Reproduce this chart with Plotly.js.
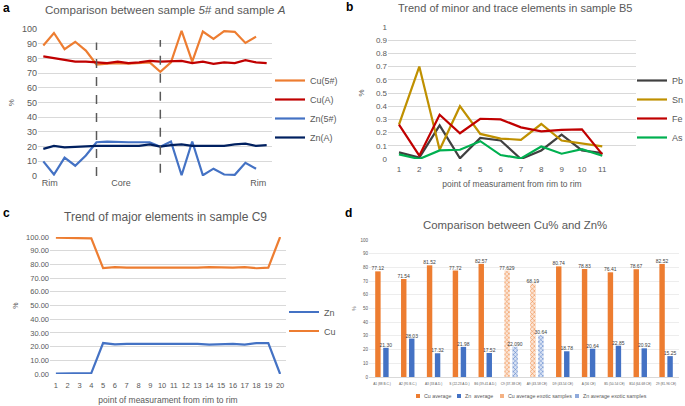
<!DOCTYPE html>
<html><head><meta charset="utf-8">
<script src="https://cdn.plot.ly/plotly-3.0.1.min.js"></script>
<style>html,body{margin:0;padding:0;background:#fff}#chart{width:685px;height:406px}</style>
</head><body><div id="chart"></div>
<script>
// ---- Panel a data ----
const aX5 = [1,2,3,4,5,6,7,8,9,10,11,12,13,14,15,16,17,18,19,20,21];
const aXA = [1,2,3,4,5,6,7,8,9,10,11,12,13,14,15,16,17,18,19,20,21,22];
const cu5 = [89,97.5,86.5,91.5,85.5,76,76.5,77,76.5,77,77.5,71,77.5,99,78,98.5,93.5,98.8,98.3,90.7,95];
const cuA = [81.5,80.5,79.5,78,78,77.5,77,78,77,77.5,78.5,78,78,78.5,77,78,76.5,77.5,77,79,77.5,77];
const zn5 = [10,1,12.5,7,14,23,23.5,23,23,23,23,20,23.5,0.5,23.5,0.5,5,1,0.8,9,5];
const znA = [18.5,20.5,19.5,20,20.5,20.5,20.5,20.5,20,20.5,21.5,20,21,21.5,20.5,20.5,21,20.5,21.5,22,20.5,21];
const aTickVals = [1.6,8.3,21.2];
const aTickText = ['Rim','Core','Rim'];
const aDividers = [6,12];

// ---- Panel b data ----
const bX = [1,2,3,4,5,6,7,8,9,10,11];
const pb = [0.05,0.01,0.255,0.005,0.16,0.14,0.0,0.065,0.185,0.065,0.045];
const sn = [0.26,0.70,0.07,0.40,0.19,0.155,0.145,0.265,0.14,0.12,0.095];
const fe = [0.26,0.025,0.335,0.195,0.305,0.30,0.24,0.21,0.22,0.225,0.035];
const as = [0.035,0.0,0.065,0.07,0.135,0.03,0.005,0.095,0.04,0.075,0.025];

// ---- Panel c data ----
const cX = [1,2,3,4,5,6,7,8,9,10,11,12,13,14,15,16,17,18,19,20];
const cZn = [0.3,0.3,0.4,0.7,22.6,21.6,22,22,22.5,22,22.5,22,22,21.5,22,22,21.5,22.6,22.6,0];
const cCu = [99.5,99.5,99,99,77.3,78,77.7,77.7,77.2,77.6,77.6,77.6,77.6,78,77.6,77.6,78,77.2,77.6,100];

// ---- Panel d data ----
const dCats = ['A1 (88 B.C.)','A2 (95 B.C.)','A3 (33 A.D.)','S (22-23 A.D.)','B6 (39-41 A.D.)','C9 (37-38 CE)','A9 (43-58 CE)','D9 (43-54 CE)','A (56 CE)','B5 (50-54 CE)','B14 (64-68 CE)','29 (81-96 CE)'];
const dCuLbl = ['77.12','71.54','81.52','77.72','82.57',null,null,'80.74','78.83','76.41','78.67','82.52'];
const dZnLbl = ['21.30','28.03','17.32','21.98','17.52',null,null,'18.78','20.64','22.85','20.92','15.25'];
const dCuExLbl = [null,null,null,null,null,'77.629','68.19',null,null,null,null,null];
const dZnExLbl = [null,null,null,null,null,'22.090','30.64',null,null,null,null,null];
const dSeriesNames = ['Cu average','Zn  average','Cu average exotic samples','Zn average exotic samples'];
const num = a => a.map(v => v === null ? null : parseFloat(v));

const gray = '#595959';
const grid = '#D9D9D9';
const FF = 'Liberation Sans, Arial, sans-serif';
const dColors = ['#ED7D31','#4472C4','#F4B183','#8FAADC'];

const barText = {textposition:'outside',cliponaxis:false,constraintext:'none',textfont:{size:5,color:'#404040',family:FF},xaxis:'x4',yaxis:'y4',showlegend:false};

const traces = [
  {x:aX5,y:cu5,name:'Cu(5#)',type:'scatter',mode:'lines',line:{color:'#ED7D31',width:2.2},xaxis:'x',yaxis:'y',legend:'legend'},
  {x:aXA,y:cuA,name:'Cu(A)',type:'scatter',mode:'lines',line:{color:'#C00000',width:2.2},xaxis:'x',yaxis:'y',legend:'legend'},
  {x:aX5,y:zn5,name:'Zn(5#)',type:'scatter',mode:'lines',line:{color:'#4472C4',width:2.2},xaxis:'x',yaxis:'y',legend:'legend'},
  {x:aXA,y:znA,name:'Zn(A)',type:'scatter',mode:'lines',line:{color:'#002060',width:2.2},xaxis:'x',yaxis:'y',legend:'legend'},

  {x:bX,y:pb,name:'Pb',type:'scatter',mode:'lines',line:{color:'#404040',width:2.2},xaxis:'x2',yaxis:'y2',legend:'legend2'},
  {x:bX,y:sn,name:'Sn',type:'scatter',mode:'lines',line:{color:'#BF9000',width:2.2},xaxis:'x2',yaxis:'y2',legend:'legend2'},
  {x:bX,y:fe,name:'Fe',type:'scatter',mode:'lines',line:{color:'#C00000',width:2.2},xaxis:'x2',yaxis:'y2',legend:'legend2'},
  {x:bX,y:as,name:'As',type:'scatter',mode:'lines',line:{color:'#00B050',width:2.2},xaxis:'x2',yaxis:'y2',legend:'legend2'},

  {x:cX,y:cZn,name:'Zn',type:'scatter',mode:'lines',line:{color:'#4472C4',width:2.2},xaxis:'x3',yaxis:'y3',legend:'legend3'},
  {x:cX,y:cCu,name:'Cu',type:'scatter',mode:'lines',line:{color:'#ED7D31',width:2.2},xaxis:'x3',yaxis:'y3',legend:'legend3'},

  Object.assign({x:dCats,y:num(dCuLbl),text:dCuLbl,name:dSeriesNames[0],type:'bar',offset:-0.26,width:0.21,marker:{color:dColors[0]}},barText),
  Object.assign({x:dCats,y:num(dZnLbl),text:dZnLbl,name:dSeriesNames[1],type:'bar',offset:0.05,width:0.21,marker:{color:dColors[1]}},barText),
  Object.assign({x:dCats,y:num(dCuExLbl),text:dCuExLbl,name:dSeriesNames[2],type:'bar',offset:-0.26,width:0.21,
   marker:{color:'#F8CBAD',pattern:{shape:'x',fgcolor:'#ED7D31',bgcolor:'#FBE5D6',size:3,solidity:0.3}}},barText),
  Object.assign({x:dCats,y:num(dZnExLbl),text:dZnExLbl,name:dSeriesNames[3],type:'bar',offset:0.05,width:0.21,
   marker:{color:'#B4C7E7',pattern:{shape:'x',fgcolor:'#4472C4',bgcolor:'#DAE3F3',size:3,solidity:0.3}}},barText)
];

const px = v => v/685, py = v => 1 - v/406;
const tf = s => ({family:FF,size:s,color:gray});

// panel d legend (small squares + text)
const dLegX = [416,457,500,575];
const dLegY = 396;
const legShapes = dLegX.map((x,i) => ({type:'rect',xref:'paper',yref:'paper',x0:px(x),x1:px(x+4),y0:py(dLegY+2),y1:py(dLegY-2),
  fillcolor:dColors[i],line:{width:0}}));
const legAnn = dLegX.map((x,i) => ({text:dSeriesNames[i],xref:'paper',yref:'paper',x:px(x+5.5),y:py(dLegY),showarrow:false,
  xanchor:'left',yanchor:'middle',font:tf(5.3)}));

const layout = {
  width:685,height:406,margin:{l:0,r:0,t:0,b:0,autoexpand:false},paper_bgcolor:'#fff',plot_bgcolor:'#fff',
  font:{family:FF,color:gray},showlegend:true,barmode:'overlay',
  xaxis:{domain:[px(38),px(272)],range:[0.5,22.5],tickvals:aTickVals,ticktext:aTickText,showgrid:false,zeroline:false,
    tickfont:tf(9),ticks:'',anchor:'y'},
  yaxis:{domain:[py(176),py(29.3)],range:[0,100],dtick:10,gridcolor:grid,zeroline:false,tickfont:tf(9),anchor:'x',
    title:{text:'%',font:tf(8),standoff:6}},
  xaxis2:{domain:[px(388),px(636)],range:[0.46,12.66],tickvals:bX,showgrid:false,zeroline:false,tickfont:tf(8),anchor:'y2',tickangle:0,
    ticklabelstandoff:4,title:{text:'point of measurament from rim to rim',font:tf(8.5),standoff:8}},
  yaxis2:{domain:[py(159),py(27)],range:[0,1],dtick:0.1,gridcolor:grid,zeroline:false,tickfont:tf(8),anchor:'x2',
    title:{text:'%',font:tf(8),standoff:10}},
  xaxis3:{domain:[px(50),px(286)],range:[0.5,20.5],tickvals:cX,showgrid:false,zeroline:false,tickfont:tf(7.5),anchor:'y3',tickangle:0,
    ticklabelstandoff:5,title:{text:'point of measurament from rim to rim',font:tf(8.5),standoff:8}},
  yaxis3:{domain:[py(374),py(237)],range:[0,100],dtick:10,tickformat:'.2f',gridcolor:grid,zeroline:false,tickfont:tf(7.5),anchor:'x3',
    title:{text:'%',font:tf(7),standoff:6}},
  xaxis4:{domain:[px(369),px(679)],type:'category',showgrid:false,zeroline:false,tickfont:tf(3.2),tickangle:0,anchor:'y4',
    ticklabelstandoff:3,showline:true,linecolor:grid},
  yaxis4:{domain:[py(377),py(240)],range:[0,100],dtick:10,gridcolor:'#EDEDED',zeroline:false,tickfont:tf(4.5),anchor:'x4',
    title:{text:'%',font:tf(5),standoff:3}},
  legend:{x:px(270),y:py(66),xanchor:'left',yanchor:'top',font:tf(9),bgcolor:'rgba(0,0,0,0)',itemwidth:30},
  legend2:{x:px(632),y:py(66),xanchor:'left',yanchor:'top',font:tf(9),bgcolor:'rgba(0,0,0,0)',itemwidth:30},
  legend3:{x:px(284),y:py(297.5),xanchor:'left',yanchor:'top',font:tf(9),bgcolor:'rgba(0,0,0,0)',itemwidth:30},
  shapes: aDividers.map(v => ({type:'line',xref:'x',yref:'y',x0:v,x1:v,y0:(v===6?0:2.3),y1:(v===6?91:92.7),
    line:{color:'#595959',width:1.5,dash:'dash'}})).concat(legShapes),
  annotations:[
    {text:'Comparison between sample <i>5#</i> and sample <i>A</i>',xref:'paper',yref:'paper',x:px(165),y:py(10),showarrow:false,font:tf(11.6),xanchor:'center',yanchor:'middle'},
    {text:'Trend of minor and trace elements in sample B5',xref:'paper',yref:'paper',x:px(515),y:py(8),showarrow:false,font:tf(11),xanchor:'center',yanchor:'middle'},
    {text:'Trend of major elements in sample C9',xref:'paper',yref:'paper',x:px(165),y:py(217),showarrow:false,font:tf(12),xanchor:'center',yanchor:'middle'},
    {text:'Comparison between Cu% and Zn%',xref:'paper',yref:'paper',x:px(515),y:py(225),showarrow:false,font:tf(11.4),xanchor:'center',yanchor:'middle'},
    {text:'<b>a</b>',xref:'paper',yref:'paper',x:px(1),y:py(8),showarrow:false,font:{family:FF,size:12,color:'#000'},xanchor:'left',yanchor:'middle'},
    {text:'<b>b</b>',xref:'paper',yref:'paper',x:px(344),y:py(7),showarrow:false,font:{family:FF,size:12,color:'#000'},xanchor:'left',yanchor:'middle'},
    {text:'<b>c</b>',xref:'paper',yref:'paper',x:px(1),y:py(213),showarrow:false,font:{family:FF,size:12,color:'#000'},xanchor:'left',yanchor:'middle'},
    {text:'<b>d</b>',xref:'paper',yref:'paper',x:px(343),y:py(213),showarrow:false,font:{family:FF,size:12,color:'#000'},xanchor:'left',yanchor:'middle'}
  ].concat(legAnn)
};
Plotly.newPlot('chart',traces,layout,{displayModeBar:false,staticPlot:true});
</script></body></html>
